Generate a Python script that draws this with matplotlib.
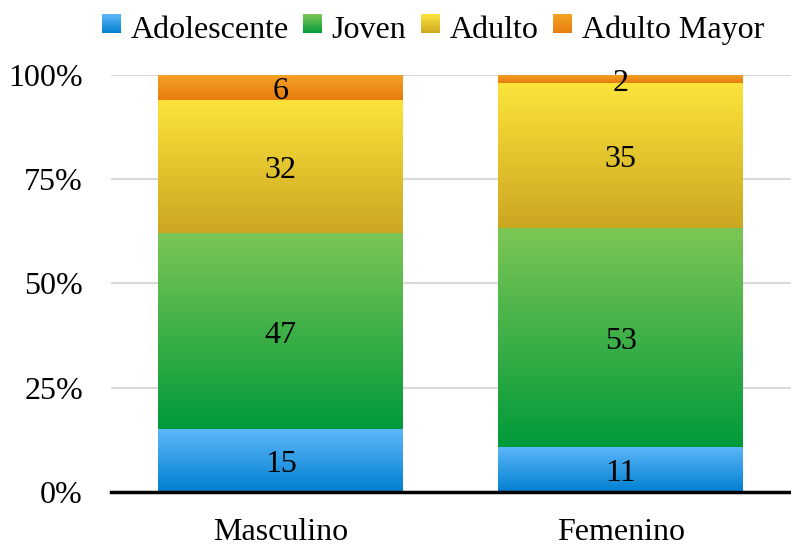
import numpy as np
import matplotlib
matplotlib.use("Agg")
import matplotlib.pyplot as plt
from matplotlib.colors import LinearSegmentedColormap
from matplotlib.patches import Rectangle
from matplotlib.legend_handler import HandlerBase

plt.rcParams['font.family'] = ['Liberation Serif', 'DejaVu Serif']

categories = ["Masculino", "Femenino"]
series_names = ["Adolescente", "Joven", "Adulto", "Adulto Mayor"]
adolescente = [15, 11]
joven = [47, 53]
adulto = [32, 35]
adulto_mayor = [6, 2]
tick_labels = ["0%", "25%", "50%", "75%", "100%"]

series_values = [adolescente, joven, adulto, adulto_mayor]
# (top colour, bottom colour)
grads = [("#5DB7FA", "#0080D0"),
         ("#7DC655", "#009A3A"),
         ("#FCE43A", "#CBA722"),
         ("#F4A224", "#E67C10")]

FS = 23

fig = plt.figure(figsize=(7.91, 5.46), dpi=100)
ax = fig.add_axes([0.140, 0.099, 0.860, 0.764])

totals = np.sum(np.array(series_values, dtype=float), axis=0)
x = np.arange(len(categories))
bottom = np.zeros(len(categories))
width = 0.72

for vals, (ctop, cbot), name in zip(series_values, grads, series_names):
    frac = np.array(vals, dtype=float) / totals
    bars = ax.bar(x, frac, width, bottom=bottom, color=cbot, edgecolor='none',
                  label=name, zorder=2)
    cmap = LinearSegmentedColormap.from_list(name, [cbot, ctop])
    grad = np.linspace(0, 1, 256).reshape(-1, 1)
    for b in bars:
        x0, y0 = b.get_x(), b.get_y()
        w, h = b.get_width(), b.get_height()
        im = ax.imshow(grad, cmap=cmap, origin='lower', aspect='auto',
                       extent=[x0, x0 + w, y0, y0 + h], zorder=3,
                       interpolation='bicubic')
        im.set_clip_path(b)
    for xi, f, bt, v in zip(x, frac, bottom, vals):
        ax.annotate(str(v), (xi, bt + f / 2), xytext=(0, -3),
                    textcoords='offset points', ha='center', va='center',
                    fontsize=FS, color='black', zorder=5)
    bottom = bottom + frac

ax.set_xlim(-0.5, 1.5)
ax.set_ylim(0, 1.0)
ax.set_xticks(x)
ax.set_xticklabels(categories, fontsize=FS)
ax.set_yticks(np.linspace(0, 1, 5))
ax.set_yticklabels(tick_labels, fontsize=FS)
ax.tick_params(axis='both', length=0)
ax.tick_params(axis='x', pad=19)
ax.tick_params(axis='y', pad=20)
ax.yaxis.grid(True, color='#D9D9D9', linewidth=1.5, zorder=0)
ax.set_axisbelow(True)
for s in ['top', 'right', 'left']:
    ax.spines[s].set_visible(False)
ax.spines['bottom'].set_linewidth(2.5)
ax.spines['bottom'].set_color('black')
ax.spines['bottom'].set_zorder(6)


class GradHandler(HandlerBase):
    def __init__(self, ctop, cbot):
        super().__init__()
        self.ctop = ctop
        self.cbot = cbot

    def create_artists(self, legend, orig_handle, xdescent, ydescent, width,
                       height, fontsize, trans):
        cmap = LinearSegmentedColormap.from_list('h', [self.cbot, self.ctop])
        n = 16
        arts = []
        hw = width
        x0 = -xdescent
        hh = width
        y0 = -ydescent + (height - hh) / 2 + 2.0
        for i in range(n):
            r = Rectangle((x0, y0 + hh * i / n), hw, hh / n + 0.3,
                          facecolor=cmap((i + 0.5) / n), edgecolor='none',
                          transform=trans)
            arts.append(r)
        return arts


handles, labels = ax.get_legend_handles_labels()
hmap = {h: GradHandler(*g) for h, g in zip(handles, grads)}
fig.legend(handles, labels, handler_map=hmap, loc='center',
           bbox_to_anchor=(0.547, 0.945), ncol=4, frameon=False, fontsize=FS,
           handlelength=0.6, handletextpad=0.3, columnspacing=0.45,
           borderaxespad=0, borderpad=0)

fig.savefig("out.png", dpi=100)
